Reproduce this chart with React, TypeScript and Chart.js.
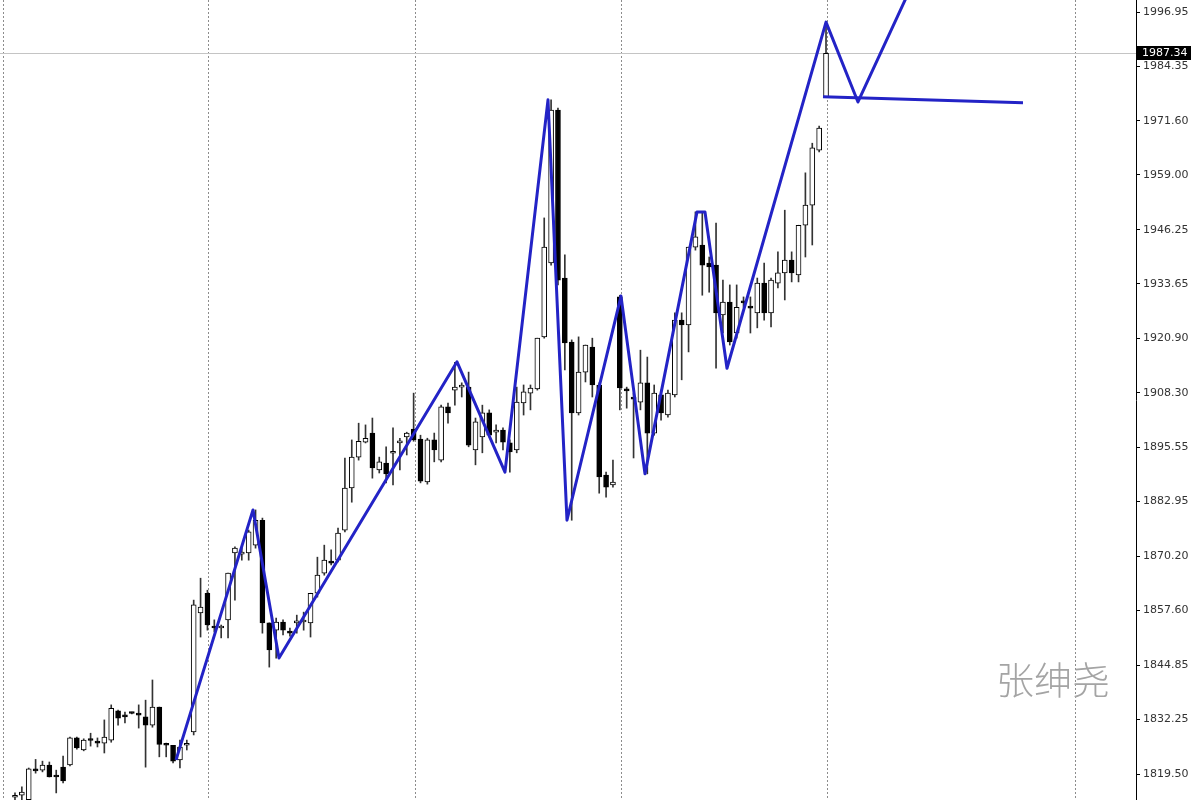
import React, { useEffect, useRef } from "react";
import { Chart, registerables } from "chart.js";

Chart.register(...registerables);

// ---- Data ----
const opens = [
  1814.1, 1814.6, 1813.5, 1820.7, 1820.4, 1821.6, 1819.0, 1821.1, 1821.6, 1827.9,
  1825.1, 1827.4, 1827.2, 1826.7, 1827.4, 1834.2, 1833.0, 1833.7, 1833.7, 1832.8,
  1830.9, 1835.1, 1826.4, 1826.2, 1822.8, 1826.2, 1829.3, 1857.0, 1861.6, 1853.9,
  1853.5, 1855.4, 1871.0, 1870.7, 1871.0, 1872.8, 1878.6, 1854.7, 1853.0, 1854.9,
  1852.8, 1854.7, 1854.9, 1854.7, 1861.6, 1866.3, 1869.1, 1869.3, 1876.3, 1886.1,
  1893.3, 1896.8, 1898.9, 1890.3, 1891.9, 1894.2, 1896.6, 1898.0, 1899.8, 1897.5,
  1887.5, 1897.3, 1892.6, 1905.0, 1908.9, 1909.6, 1909.6, 1895.0, 1898.0, 1903.6,
  1899.1, 1899.6, 1896.6, 1895.0, 1905.9, 1908.2, 1909.2, 1921.3, 1938.5, 1974.1,
  1935.0, 1920.1, 1903.6, 1913.1, 1918.9, 1910.1, 1889.1, 1886.8, 1930.6, 1909.2,
  1907.3, 1906.1, 1910.6, 1898.9, 1907.8, 1903.1, 1907.8, 1925.2, 1924.1, 1942.2,
  1942.7, 1938.5, 1938.0, 1926.4, 1929.4, 1922.2, 1929.7, 1928.5, 1926.9, 1933.8,
  1926.9, 1933.8, 1936.2, 1939.2, 1935.7, 1947.3, 1952.0, 1964.8, 1977.2,
];
const closes = [
  1814.4, 1815.3, 1820.7, 1820.2, 1821.6, 1818.8, 1818.8, 1817.9, 1827.9, 1825.6,
  1827.4, 1827.3, 1826.7, 1828.1, 1834.8, 1832.5, 1832.8, 1833.6, 1833.2, 1830.9,
  1835.1, 1826.4, 1826.2, 1822.5, 1825.8, 1826.5, 1858.9, 1858.4, 1854.2, 1853.5,
  1853.7, 1866.3, 1872.1, 1871.2, 1875.9, 1878.6, 1854.7, 1848.4, 1854.9, 1853.0,
  1852.3, 1854.9, 1855.1, 1861.6, 1865.8, 1869.3, 1868.6, 1875.6, 1886.1, 1893.3,
  1897.0, 1897.7, 1890.8, 1892.2, 1889.4, 1894.5, 1897.0, 1898.9, 1897.3, 1887.7,
  1897.3, 1895.0, 1905.0, 1903.6, 1909.6, 1909.9, 1896.1, 1901.5, 1903.6, 1898.4,
  1899.6, 1896.8, 1894.5, 1906.1, 1908.5, 1909.4, 1921.0, 1942.2, 1974.1, 1934.5,
  1919.9, 1903.6, 1913.1, 1919.4, 1910.1, 1888.7, 1886.3, 1887.5, 1909.4, 1908.7,
  1906.8, 1910.6, 1898.9, 1908.2, 1903.6, 1908.2, 1925.2, 1924.1, 1942.2, 1944.6,
  1938.0, 1937.6, 1926.9, 1929.4, 1920.1, 1928.2, 1929.2, 1928.0, 1933.8, 1926.9,
  1934.5, 1936.2, 1939.2, 1936.2, 1947.3, 1952.0, 1965.3, 1969.9, 1987.34,
];
const highs = [
  1815.1, 1816.5, 1820.9, 1822.9, 1822.5, 1822.3, 1820.4, 1823.7, 1828.1, 1828.1,
  1827.7, 1829.0, 1827.9, 1832.1, 1835.6, 1834.4, 1833.9, 1833.9, 1835.6, 1836.7,
  1841.4, 1835.1, 1826.7, 1826.2, 1827.4, 1827.4, 1860.0, 1865.1, 1862.3, 1855.4,
  1854.2, 1866.3, 1872.4, 1872.6, 1876.3, 1881.0, 1879.1, 1854.7, 1855.8, 1855.4,
  1853.5, 1856.5, 1857.2, 1861.6, 1870.0, 1872.8, 1871.7, 1876.8, 1893.1, 1897.3,
  1901.2, 1900.8, 1902.4, 1893.3, 1895.7, 1900.1, 1897.7, 1899.1, 1908.2, 1898.4,
  1897.7, 1898.9, 1905.4, 1905.9, 1915.4, 1910.6, 1913.1, 1902.4, 1905.4, 1904.3,
  1900.8, 1900.1, 1897.3, 1909.6, 1910.1, 1910.1, 1921.0, 1949.0, 1976.5, 1974.6,
  1940.4, 1920.6, 1921.3, 1919.4, 1921.0, 1910.6, 1889.8, 1892.6, 1931.0, 1909.6,
  1908.2, 1918.2, 1916.6, 1910.1, 1908.9, 1908.9, 1926.9, 1926.9, 1942.2, 1950.4,
  1950.4, 1939.9, 1947.8, 1934.5, 1933.4, 1933.4, 1930.6, 1930.6, 1935.0, 1938.5,
  1935.0, 1941.1, 1950.8, 1941.1, 1947.3, 1959.5, 1966.4, 1970.4, 1994.6,
];
const lows = [
  1813.5, 1813.5, 1813.0, 1819.7, 1820.0, 1818.8, 1815.1, 1817.4, 1821.4, 1825.3,
  1824.9, 1826.0, 1825.8, 1824.4, 1826.9, 1830.9, 1831.4, 1833.5, 1830.2, 1821.1,
  1830.4, 1823.5, 1823.5, 1822.1, 1820.9, 1825.1, 1828.6, 1851.4, 1853.0, 1852.6,
  1851.2, 1851.2, 1860.0, 1869.3, 1869.3, 1872.1, 1852.3, 1844.4, 1846.5, 1851.9,
  1851.6, 1852.3, 1853.0, 1851.4, 1860.7, 1865.8, 1868.2, 1868.9, 1875.9, 1882.8,
  1892.6, 1896.6, 1888.4, 1889.6, 1887.3, 1886.8, 1890.3, 1893.8, 1897.0, 1887.3,
  1887.0, 1892.2, 1892.2, 1901.2, 1905.4, 1907.3, 1895.7, 1891.5, 1894.3, 1898.0,
  1896.6, 1895.0, 1889.8, 1894.3, 1903.1, 1904.3, 1908.9, 1921.0, 1938.0, 1933.4,
  1913.6, 1878.6, 1903.1, 1910.8, 1907.3, 1884.9, 1884.0, 1886.3, 1904.3, 1904.7,
  1893.1, 1904.3, 1889.4, 1898.4, 1901.9, 1902.6, 1907.3, 1911.3, 1917.8, 1941.5,
  1931.0, 1931.7, 1914.0, 1922.2, 1919.4, 1921.0, 1928.2, 1922.2, 1923.4, 1925.2,
  1923.6, 1932.7, 1929.9, 1934.1, 1934.1, 1939.9, 1942.7, 1964.4, 1977.2,
];

// zigzag (bar index, price)
const zigzagIdx = [23.43, 34.63, 38.41, 64.31, 71.29, 77.55, 80.31, 88.17, 91.66, 99.23, 100.39, 103.59, 118.0, 122.65, 130.5];
const zigzagPrice = [1822.8, 1881.0, 1846.5, 1915.5, 1889.8, 1976.5, 1878.6, 1930.8, 1889.4, 1950.4, 1950.4, 1914.0, 1994.6, 1976.0, 2003.2];
// horizontal trend line
const flatIdx = [117.56, 146.66];
const flatPrice = [1977.2, 1975.8];

const priceTicks = [1819.5, 1832.25, 1844.85, 1857.6, 1870.2, 1882.95, 1895.55, 1908.3, 1920.9, 1933.65, 1946.25, 1959.0, 1971.6, 1984.35, 1996.95];
const sessionLines = [-1.75, 28.08, 58.2, 88.17, 118.15, 154.2];
const lastPrice = 1987.34;
const watermark = "张绅尧";

const X_MIN = -2.18;
const X_MAX = 163.1;
const Y_MIN = 1813.45;
const Y_MAX = 1999.75;

const overlayPlugin = {
  id: "overlay",
  beforeDatasetsDraw(chart: any) {
    const { ctx, chartArea, scales } = chart;
    const x = scales.x;
    const y = scales.y;
    ctx.save();
    // session separators
    ctx.strokeStyle = "#8c8c8c";
    ctx.lineWidth = 1;
    ctx.setLineDash([2, 2]);
    sessionLines.forEach((v) => {
      const px = Math.round(x.getPixelForValue(v)) + 0.5;
      ctx.beginPath();
      ctx.moveTo(px, chartArea.top);
      ctx.lineTo(px, chartArea.bottom);
      ctx.stroke();
    });
    ctx.setLineDash([]);
    // current price line
    const py = Math.round(y.getPixelForValue(lastPrice)) + 0.5;
    ctx.strokeStyle = "#c4c4c4";
    ctx.beginPath();
    ctx.moveTo(chartArea.left, py);
    ctx.lineTo(chartArea.right, py);
    ctx.stroke();
    // watermark
    ctx.fillStyle = "#a4a4a4";
    ctx.font = '300 38px "Noto Sans CJK SC", sans-serif';
    ctx.textBaseline = "middle";
    ctx.textAlign = "left";
    ctx.fillText(watermark, 996, 680);
    ctx.restore();
  },
  afterDraw(chart: any) {
    const { ctx, chartArea, scales } = chart;
    const y = scales.y;
    const py = Math.round(y.getPixelForValue(lastPrice));
    ctx.save();
    ctx.fillStyle = "#000";
    ctx.fillRect(chartArea.right + 1, py - 7, 54, 14);
    ctx.fillStyle = "#fff";
    ctx.font = '11px "DejaVu Sans", sans-serif';
    ctx.textBaseline = "middle";
    ctx.textAlign = "left";
    ctx.fillText(lastPrice.toFixed(2), chartArea.right + 6, py + 0.5);
    ctx.restore();
  },
};

export default function App() {
  const canvasRef = useRef<HTMLCanvasElement | null>(null);

  useEffect(() => {
    document.body.style.margin = "0";
    const canvas = canvasRef.current;
    if (!canvas) return;

    const bodies = opens.map((o, i) => ({ x: i, y: [o, closes[i]] }));
    const wicks = lows.map((l, i) => ({ x: i, y: [l, highs[i]] }));
    const bodyColors = opens.map((o, i) => (closes[i] >= o ? "#ffffff" : "#000000"));

    const chart = new Chart(canvas, {
      type: "bar",
      data: {
        datasets: [
          {
            type: "line",
            data: zigzagIdx.map((v, i) => ({ x: v, y: zigzagPrice[i] })),
            borderColor: "#2323c6",
            borderWidth: 3,
            pointRadius: 0,
            tension: 0,
            borderJoinStyle: "round",
            order: 0,
          } as any,
          {
            type: "line",
            data: flatIdx.map((v, i) => ({ x: v, y: flatPrice[i] })),
            borderColor: "#2323c6",
            borderWidth: 3,
            pointRadius: 0,
            tension: 0,
            order: 0,
          } as any,
          {
            type: "bar",
            data: bodies as any,
            backgroundColor: bodyColors,
            borderColor: "#000000",
            borderWidth: 1,
            borderSkipped: false,
            barThickness: 5,
            minBarLength: 2,
            grouped: false,
            order: 1,
          } as any,
          {
            type: "bar",
            data: wicks as any,
            backgroundColor: "#333333",
            borderWidth: 0,
            barThickness: 1,
            grouped: false,
            order: 2,
          } as any,
        ],
      },
      options: {
        responsive: false,
        animation: false,
        layout: { padding: 0 },
        plugins: {
          legend: { display: false },
          tooltip: { enabled: false },
        },
        scales: {
          x: {
            type: "linear",
            min: X_MIN,
            max: X_MAX,
            offset: false,
            display: false,
            grid: { offset: false },
          },
          y: {
            position: "right",
            min: Y_MIN,
            max: Y_MAX,
            afterBuildTicks: (s: any) => {
              s.ticks = priceTicks.map((v) => ({ value: v }));
            },
            afterFit: (s: any) => {
              s.width = 64;
              s.paddingTop = 0;
              s.paddingBottom = 0;
            },
            ticks: {
              autoSkip: false,
              padding: 3,
              color: "#333333",
              font: { family: '"DejaVu Sans", sans-serif', size: 11 },
              callback: (v: any) => Number(v).toFixed(2),
            },
            grid: {
              drawOnChartArea: false,
              drawTicks: true,
              tickLength: 4,
              color: "#000000",
            },
            border: { display: true, color: "#000000", width: 1 },
          },
        },
      } as any,
      plugins: [overlayPlugin],
    });

    return () => chart.destroy();
  }, []);

  return (
    <canvas
      ref={canvasRef}
      width={1200}
      height={800}
      style={{ display: "block", width: 1200, height: 800 }}
    />
  );
}
